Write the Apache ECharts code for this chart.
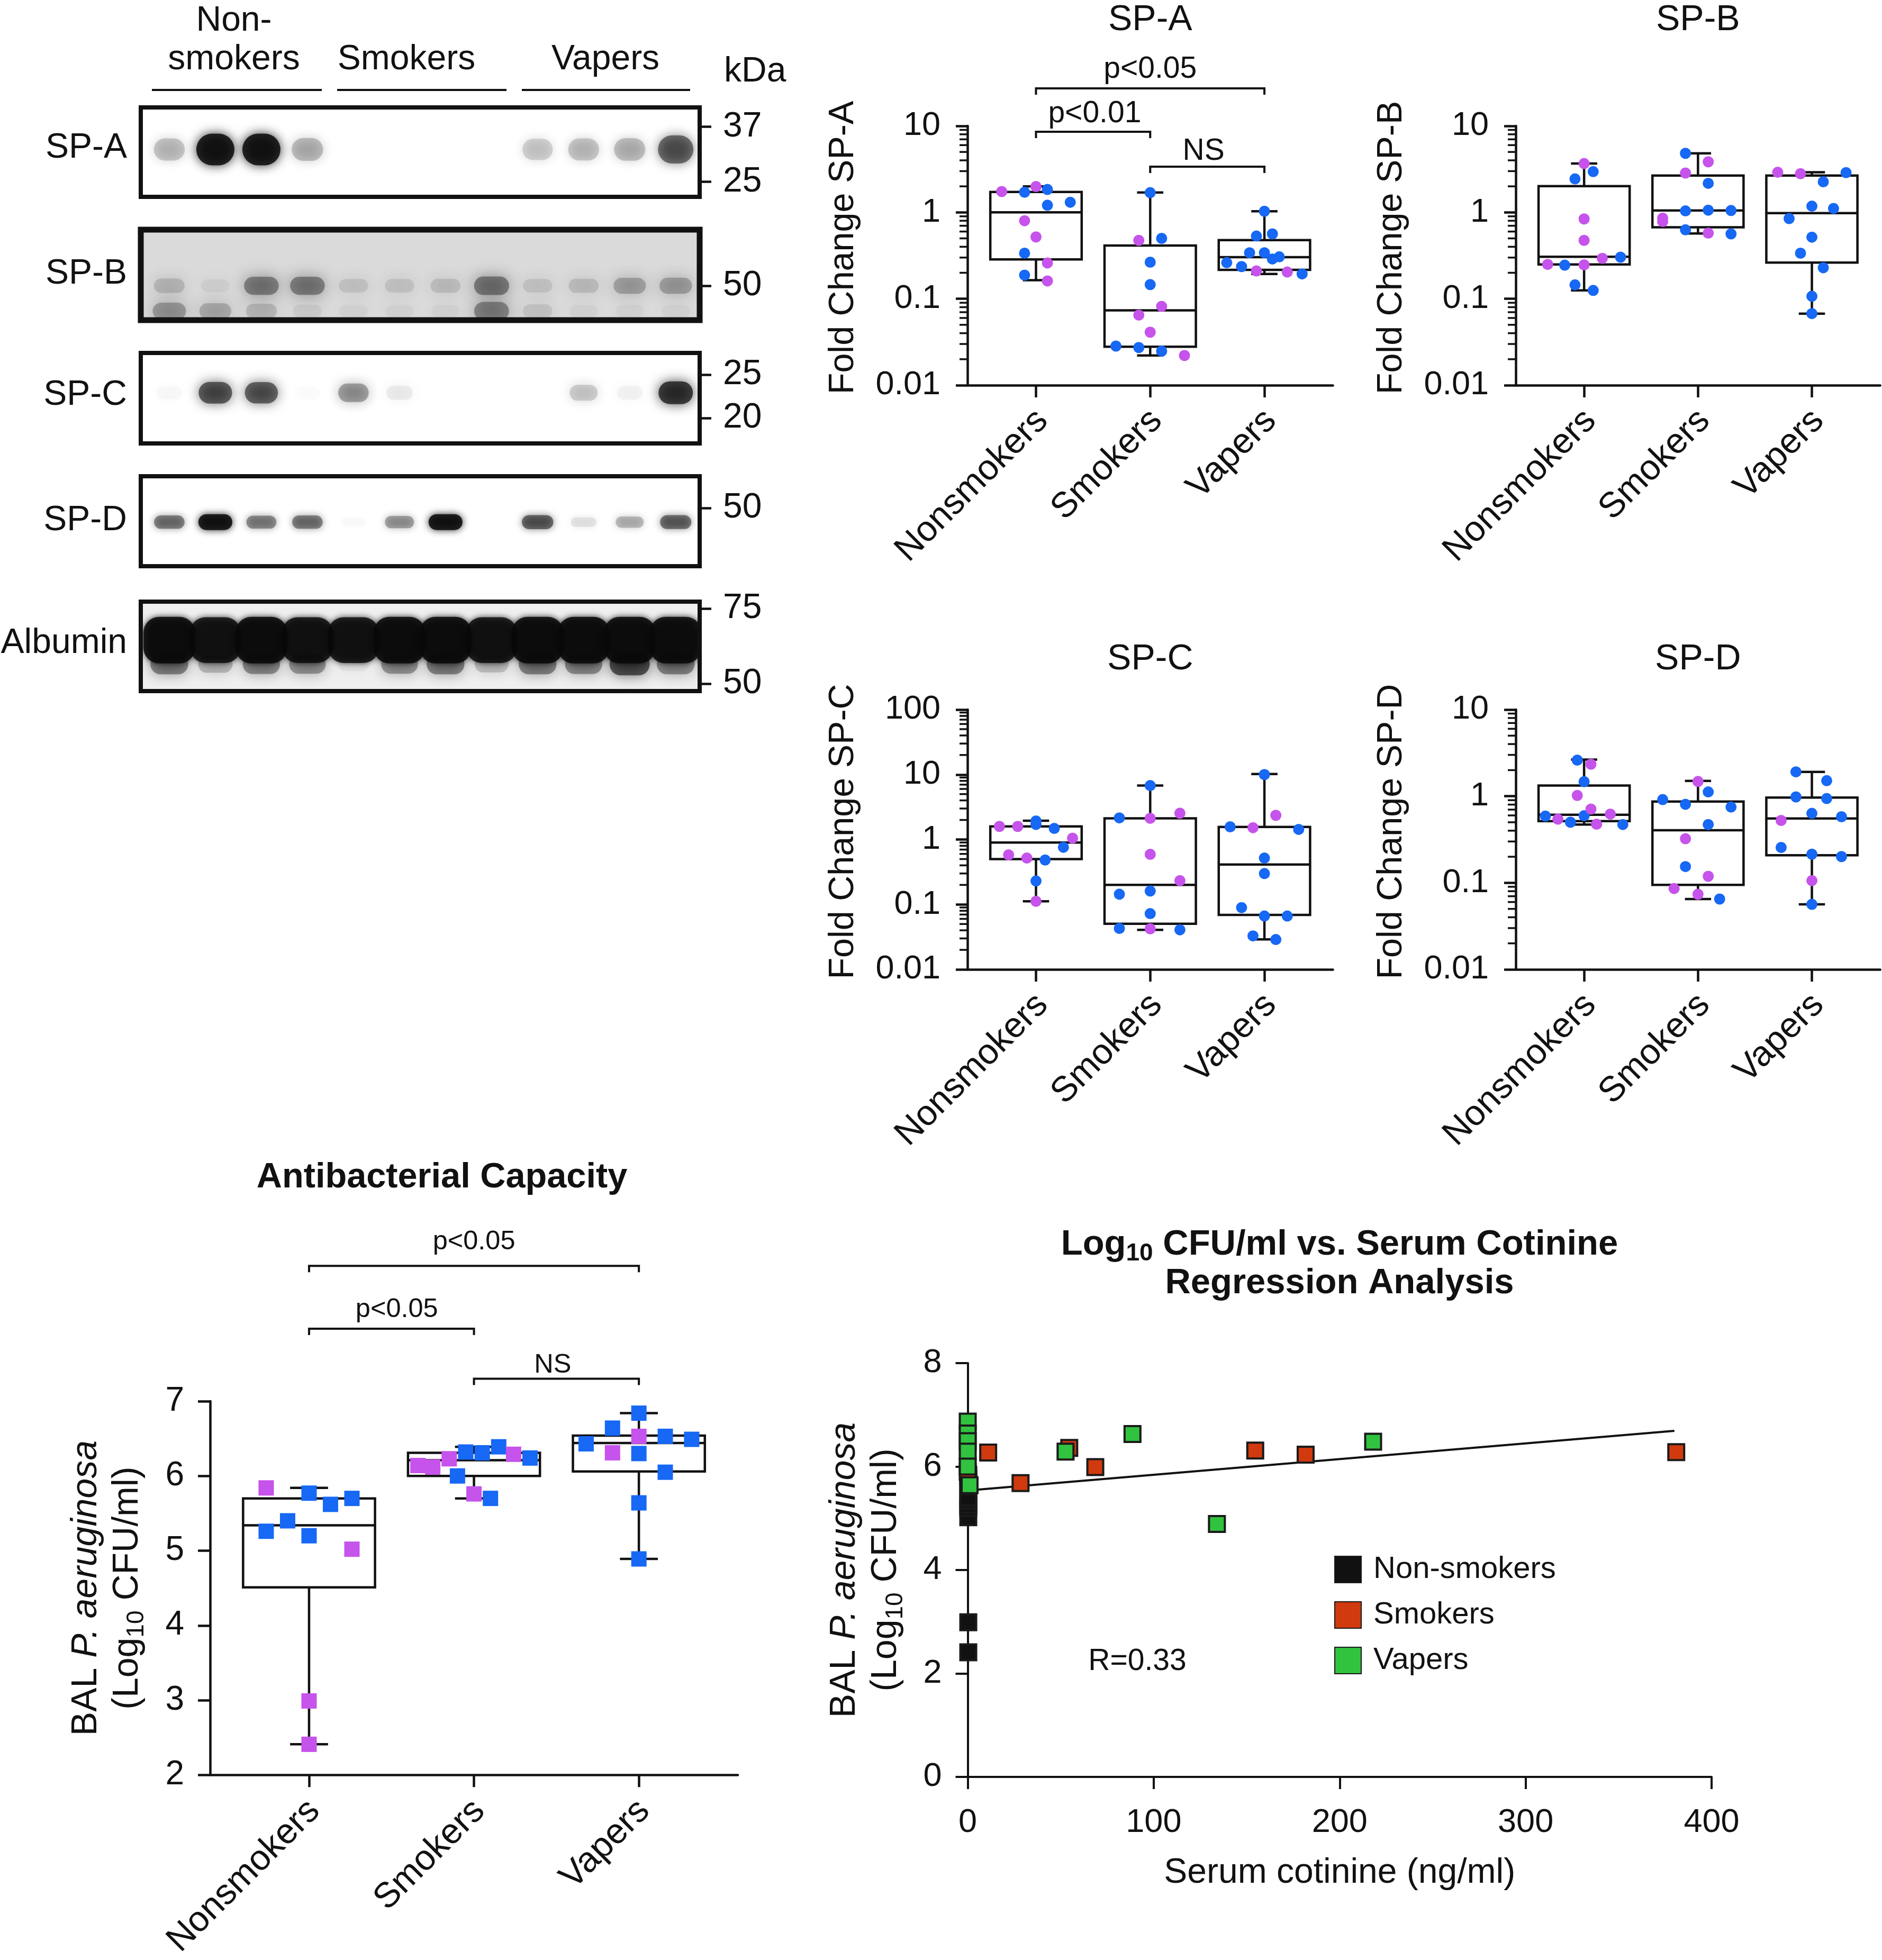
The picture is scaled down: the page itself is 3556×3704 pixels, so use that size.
<!DOCTYPE html>
<html><head><meta charset="utf-8">
<style>html,body{margin:0;padding:0;background:#fff}#c{width:3556px;height:3704px}</style>
<script src="https://cdn.jsdelivr.net/npm/echarts@6/dist/echarts.min.js"></script>
</head><body><div id="c"></div>
<script>
const categories = ['Nonsmokers','Smokers','Vapers'];

// Box summaries: [group, low whisker, Q1, median, Q3, high whisker]; points: [jittered group, value]
const spA_box = [[1,.164,.286,1.0,1.72,2.0],[2,.0221,.0279,.0735,.414,1.70],[3,.194,.216,.303,.478,1.03]];
const spA_blue = [[.90,1.71],[1.10,1.84],[1.10,1.21],[1.30,1.31],[.90,.337],[.90,.188],
  [2,1.69],[2.10,.50],[2,.265],[2,.146],[1.70,.0284],[1.90,.0273],[2.10,.0248],
  [3,1.03],[2.93,.532],[3.07,.564],[2.87,.341],[3,.341],[3.07,.289],[3.13,.306],[2.67,.262],[2.80,.236],[3.33,.194]];
const spA_purple = [[.70,1.74],[1,1.99],[.90,.80],[1,.52],[1.10,.26],[1.10,.161],
  [1.90,.474],[2.10,.0818],[1.90,.0648],[2,.0411],[2.30,.0221],
  [2.93,.21],[3.20,.204]];

const spB_box = [[1,.125,.25,.306,2.01,3.67],[2,.57,.672,1.05,2.67,4.82],[3,.0674,.262,.98,2.67,2.91]];
const spB_blue = [[1.08,2.96],[.92,2.44],[1.32,.303],[.83,.245],[.92,.145],[1.08,.125],
  [1.89,4.82],[2.09,2.17],[1.89,1.04],[2.09,1.06],[2.29,1.05],[1.89,.628],[2.29,.564],
  [3.30,2.88],[3.10,2.26],[3,1.18],[3.19,1.11],[2.80,.848],[3,.517],[2.90,.337],[3.10,.229],[3,.107],[3,.0674]];
const spB_purple = [[1,3.67],[1,.84],[1,.474],[1.16,.294],[.68,.25],[1,.247],
  [2.09,3.85],[1.89,2.85],[1.69,.857],[1.69,.785],[2.09,.575],
  [2.70,2.91],[2.90,2.80]];

const spC_box = [[1,.112,.5,.898,1.59,1.95],[2,.0407,.0505,.2,2.12,6.76],[3,.029,.0689,.413,1.56,10.2]];
const spC_blue = [[1,1.93],[1,1.71],[1.16,1.48],[1.24,.76],[1.08,.483],[1,.23],
  [2,6.76],[1.73,2.15],[2,.161],[1.73,.144],[2,.0722],[1.73,.0427],[2.26,.0407],
  [3,10.0],[2.70,1.57],[3.30,1.43],[3,.518],[3,.299],[2.80,.0895],[3,.0664],[3.20,.0664],[2.90,.0328],[3.10,.0288]];
const spC_purple = [[.68,1.59],[.84,1.59],[1.32,1.05],[.76,.58],[.92,.518],[1,.112],
  [2,2.12],[2.26,2.54],[2,.591],[2.26,.233],[2,.0422],
  [3.10,2.36],[2.90,1.52]];

const spD_box = [[1,.47,.515,.611,1.33,2.65],[2,.065,.0948,.405,.867,1.5],[3,.0564,.208,.553,.965,1.91]];
const spD_blue = [[.94,2.61],[1,1.47],[.66,.589],[1,.595],[.88,.501],[1.34,.471],
  [2.09,1.12],[1.69,.914],[1.89,.807],[2.29,.75],[2.09,.471],[1.89,.154],[2.19,.065],
  [2.86,1.91],[3.13,1.51],[2.86,.982],[3.13,.94],[3,.634],[3.26,.579],[2.73,.256],[3,.214],[3.26,.201],[3,.0564]];
const spD_purple = [[1.06,2.34],[.94,1.02],[1.06,.711],[1.23,.622],[.77,.543],[1.11,.475],
  [2,1.48],[1.89,.323],[2.09,.119],[1.79,.0859],[2,.0737],
  [2.73,.525],[3,.106]];

const abc_box = [[1,2.41,4.51,5.34,5.70,5.84],[2,5.70,6.0,6.21,6.31,6.39],[3,4.89,6.06,6.44,6.54,6.84]];
const abc_blue = [[1,5.77],[1.13,5.62],[1.26,5.70],[.87,5.40],[.74,5.26],[1,5.20],
  [1.95,6.32],[2.05,6.31],[2.15,6.39],[2.34,6.24],[1.90,6.0],[2.10,5.70],
  [3,6.84],[2.84,6.64],[3.16,6.53],[3.32,6.49],[2.68,6.43],[3,6.30],[3.16,6.05],[3,5.64],[3,4.89]];
const abc_purple = [[.74,5.84],[1.26,5.02],[1,2.99],[1,2.41],
  [1.66,6.14],[1.75,6.12],[1.85,6.23],[2.24,6.29],[2,5.76],
  [3,6.53],[2.84,6.31]];

// Regression: [serum cotinine, log10 CFU/ml]
const reg_nonsmokers = [[.3,2.41],[.3,2.99],[.3,5.02],[.3,5.2],[.3,5.26],[.3,5.34],[.3,5.4],[.3,5.62],[.3,5.7],[.3,5.77],[.3,5.84]];
const reg_smokers = [[0,5.9],[11,6.27],[28.4,5.68],[54.6,6.36],[68.6,5.99],[154.6,6.31],[181.7,6.23],[381,6.28]];
const reg_vapers = [[0,6.87],[0,6.64],[0,6.49],[0,6.29],[0,6.0],[1,5.64],[52.6,6.29],[88.6,6.63],[134,4.89],[218,6.48]];
const reg_line = [[.65,5.54],[380,6.69]];

// Blot band intensity per lane (0-1), 12 lanes
const blotA = [.33,1,1,.38,0,0,0,0,.27,.32,.36,.75];
const blotB = [.3,.1,.68,.68,.2,.2,.24,.72,.2,.25,.46,.48];
const blotB_low = [.55,.42,.32,.14,.08,.08,.08,.7,.2,.08,.08,.08];
const blotC = [.05,.85,.82,.02,.55,.12,0,0,0,.3,.08,.95];
const blotD = [.65,1,.6,.65,.03,.5,1,0,.75,.15,.38,.72];
const blotAlb = [1,.96,1,.96,.96,1,1,.96,1,1,1,1];
const blotAlb_low = [.7,.4,.65,.6,.1,.6,.7,.35,.7,.65,.9,.7];
const blotNames = ['SP-A','SP-B','SP-C','SP-D','Albumin'];
const kda = [['37','25'],['50'],['25','20'],['50'],['75','50']];

const FONT = 'Liberation Sans', INK = '#111', BLUE = '#1668f5', PURPLE = '#c653eb';
const RED = '#d03a0e', GREEN = '#31c23f';
const opt = {animation:false, backgroundColor:'#fff', textStyle:{fontFamily:FONT,color:INK},
  title:[], grid:[], xAxis:[], yAxis:[], series:[], graphic:[]};

const titleAt = (text,x,y,size,bold,rich) => opt.title.push({text,left:x,top:y,padding:0,textAlign:'center',textVerticalAlign:'middle',
  textStyle:{fontFamily:FONT,fontSize:size,fontWeight:bold?'bold':'normal',color:INK,rich}});
const gText = (text,x,y,size,align) => opt.graphic.push({type:'text',x,y,silent:true,
  style:{text,fontFamily:FONT,fontSize:size,fill:INK,align:align||'center',verticalAlign:'middle'}});
const gLine = (x1,x2,y) => opt.graphic.push({type:'line',silent:true,shape:{x1,y1:y,x2,y2:y},style:{stroke:INK,lineWidth:4}});

// ---------- Blots ----------
const blotBoxes = [[203,372],[434,605],[667,838],[900,1070],[1137,1306]];
const blotTicks = [[.215,.832],[.62],[.24,.72],[.353],[.077,.917]];
const blotLabelY = [280,518,747,984,1216];
function bandSeries(g, values, yf, w, h, blur, gray, rad){
  return {type:'custom',xAxisIndex:g,yAxisIndex:g,silent:true,clip:true,z:2,data:values.map((v,i)=>[i,v]),
    renderItem(p,api){
      const v=api.value(1); if(v<=0) return null;
      const c=api.coord([api.value(0),yf]), ww=w*(.72+.28*v), hh=h*(.55+.45*v);
      const a=1-Math.sqrt(1-Math.min(.98,v));
      return {type:'rect',shape:{x:c[0]-ww/2,y:c[1]-hh/2,width:ww,height:hh,r:rad==null?hh/2:rad},
        style:{fill:`rgba(${gray},${gray},${gray},${a})`,shadowColor:`rgb(${gray},${gray},${gray})`,shadowBlur:blur}};
    }};
}
function bgSeries(g, fill){
  return {type:'custom',xAxisIndex:g,yAxisIndex:g,silent:true,z:1,data:[[0,0]],
    renderItem(p,api){
      const a=api.coord([-.62,0]), b=api.coord([11.52,1]);
      return {type:'rect',shape:{x:a[0],y:a[1],width:b[0]-a[0],height:b[1]-a[1]},style:{fill}};
    }};
}
blotBoxes.forEach((b,i)=>{
  const g=opt.grid.length;
  opt.grid.push({show:true,left:266,top:b[0],width:1056,height:b[1]-b[0],borderColor:INK,borderWidth:i===1?11:8,backgroundColor:'transparent',z:10});
  opt.xAxis.push({gridIndex:g,type:'value',min:-.62,max:11.52,show:false});
  opt.yAxis.push({gridIndex:g,type:'value',min:0,max:1,inverse:true,position:'right',splitLine:{show:false},axisLine:{show:false,onZero:false},
    axisTick:{show:true,customValues:blotTicks[i],length:22,lineStyle:{color:INK,width:4.5}},
    axisLabel:{show:true,customValues:blotTicks[i],margin:44,fontSize:66,fontFamily:FONT,color:INK,padding:[11,0,0,0],
      formatter:v=>kda[i][blotTicks[i].indexOf(v)]}});
  gText(blotNames[i],240,blotLabelY[i],66,'right');
});
opt.series.push(bandSeries(0,blotA,.47,72,60,20,12));
opt.series.push(bgSeries(1,'#dadada'));
opt.series.push(bandSeries(1,blotB_low,.9,72,40,30,50));
opt.series.push(bandSeries(1,blotB,.62,72,40,28,40));
opt.series.push(bandSeries(2,blotC,.44,66,44,22,25));
opt.series.push(bandSeries(3,blotD,.51,64,30,14,10));
opt.series.push(bgSeries(4,'#efefef'));
opt.series.push(bandSeries(4,blotAlb_low,.7,78,44,24,30));
opt.series.push(bandSeries(4,blotAlb,.43,98,88,12,8,30));
gText('Non-',442,40,66); gText('smokers',442,113,66); gText('Smokers',768,113,66); gText('Vapers',1144,113,66);
gText('kDa',1368,136,66,'left');
gLine(287,608,170); gLine(637,957,170); gLine(986,1304,170);

// ---------- Group panels ----------
const boxSeries = (g,box) => ({type:'custom',xAxisIndex:g,yAxisIndex:g,silent:true,z:2,data:box,
  renderItem(p,api){
    const x=api.value(0), P=(dx,v)=>api.coord([x+dx,v]);
    const lo=api.value(1),q1=api.value(2),med=api.value(3),q3=api.value(4),hi=api.value(5);
    const ln={stroke:INK,lineWidth:4.5,fill:null};
    const a=P(-.4,q3), b=P(.4,q1);
    const seg=(p1,p2)=>({type:'line',shape:{x1:p1[0],y1:p1[1],x2:p2[0],y2:p2[1]},style:ln});
    return {type:'group',children:[
      {type:'rect',shape:{x:a[0],y:a[1],width:b[0]-a[0],height:b[1]-a[1]},style:ln},
      seg(P(-.4,med),P(.4,med)),
      seg(P(0,q3),P(0,hi)), seg(P(-.115,hi),P(.115,hi)),
      seg(P(0,q1),P(0,lo)), seg(P(-.115,lo),P(.115,lo))]};
  }});
const dotSeries = (g,data,color,symbol,size) => ({type:'scatter',xAxisIndex:g,yAxisIndex:g,clip:false,silent:true,z:3,data,symbol,symbolSize:size,itemStyle:{color,opacity:1}});
const bracketSeries = (g,list,fs) => ({type:'custom',xAxisIndex:g,yAxisIndex:g,silent:true,z:2,data:list.map(b=>[b.from,b.to,b.level]),
  renderItem(p,api){
    const A=api.coord([api.value(0),api.value(2)]), B=api.coord([api.value(1),api.value(2)]), br=list[p.dataIndex];
    return {type:'group',children:[
      {type:'polyline',shape:{points:[[A[0],A[1]+12],A,[B[0],B[1]],[B[0],B[1]+12]]},style:{stroke:INK,lineWidth:4,fill:null}},
      {type:'text',x:(A[0]+B[0])/2+(br.dx||0),y:A[1]-br.dy,style:{text:br.text,fontFamily:FONT,fontSize:fs,fill:INK,align:'center',verticalAlign:'middle'}}]};
  }});
const MINOR=[2,3,4,5,6,7,8,9];
function minorSeries(g,decades,xMin){
  const vals=[]; decades.forEach(d=>MINOR.forEach(m=>vals.push([xMin,m*d])));
  return {type:'custom',xAxisIndex:g,yAxisIndex:g,silent:true,z:1,data:vals,
    renderItem(p,api){const c=api.coord([api.value(0),api.value(1)]);
      return {type:'line',shape:{x1:c[0]-15,y1:c[1],x2:c[0],y2:c[1]},style:{stroke:INK,lineWidth:3.5}};}};
}
// The slanted labels sit a little to the right of their tick: labelShift is in group units
const xAx = (g,fs,mar,labelShift) => ({gridIndex:g,type:'value',min:.4,max:3.6,splitLine:{show:false},
  axisLine:{onZero:false,lineStyle:{color:INK,width:4.5}},
  axisTick:{customValues:[1,2,3],length:23,lineStyle:{color:INK,width:4.5}},
  axisLabel:{customValues:[1,2,3].map(v=>v+labelShift),rotate:45,margin:mar,padding:[17,0,0,0],fontSize:fs,fontFamily:FONT,color:INK,formatter:v=>categories[Math.round(v)-1]}});
function logPanel(name,left,spacing,top,height,minVal,maxVal,box,blue,purple,decades,brackets){
  const g=opt.grid.length;
  opt.grid.push({left,top,width:3.2*spacing,height});
  opt.xAxis.push(xAx(g,67,57,.056));
  opt.yAxis.push({gridIndex:g,type:'log',logBase:10,min:minVal,max:maxVal,splitLine:{show:false},
    axisLine:{onZero:false,lineStyle:{color:INK,width:4.5}},axisTick:{length:22,lineStyle:{color:INK,width:4.5}},
    axisLabel:{margin:51,fontSize:63,padding:[11,0,0,0],fontFamily:FONT,color:INK,formatter:v=>String(+(+v).toPrecision(2))},
    name:'Fold Change '+name,nameLocation:'middle',nameRotate:90,nameGap:201,
    nameTextStyle:{fontFamily:FONT,fontSize:66.5,color:INK,padding:[0,0,0,30]}});
  opt.series.push(minorSeries(g,decades,.4));
  opt.series.push(boxSeries(g,box));
  opt.series.push(dotSeries(g,blue,BLUE,'circle',21));
  opt.series.push(dotSeries(g,purple,PURPLE,'circle',21));
  if(brackets) opt.series.push(bracketSeries(g,brackets,57));
  titleAt(name,left+.6*spacing+spacing,top<1000?38:1246,68);
}
logPanel('SP-A',1828,215.8,238,490,.01,10,spA_box,spA_blue,spA_purple,[.01,.1,1],[
  {from:1,to:3,level:27.2,text:'p<0.05',dy:36},{from:1,to:2,level:8.57,text:'p<0.01',dy:34,dx:3},{from:2,to:3,level:3.38,text:'NS',dy:29,dx:-7}]);
logPanel('SP-B',2864,215.2,238,490,.01,10,spB_box,spB_blue,spB_purple,[.01,.1,1]);
logPanel('SP-C',1828,215.8,1341,491,.01,100,spC_box,spC_blue,spC_purple,[.01,.1,1,10]);
logPanel('SP-D',2864,215.2,1341,491,.01,10,spD_box,spD_blue,spD_purple,[.01,.1,1]);

// Name rich styles with italic and subscript
const nameRich = {
  t:{fontFamily:FONT,fontSize:68,color:INK,lineHeight:78,verticalAlign:'middle'},
  i:{fontFamily:FONT,fontSize:68,fontStyle:'italic',color:INK,lineHeight:78,verticalAlign:'middle'},
  s:{fontFamily:FONT,fontSize:46,color:INK,lineHeight:65,padding:[35,0,0,0],verticalAlign:'middle'}};
const baseName = '{t|BAL }{i|P. aeruginosa}\n{t|(Log}{s|10}{t| CFU/ml)}';

// Antibacterial capacity
{
  const g=opt.grid.length, sp=311.6;
  opt.grid.push({left:397,top:2648,width:3.2*sp,height:709});
  opt.xAxis.push(xAx(g,67,58,.032));
  opt.yAxis.push({gridIndex:g,type:'value',min:2,max:7,interval:1,splitLine:{show:false},
    axisLine:{onZero:false,lineStyle:{color:INK,width:4.5}},axisTick:{length:23,lineStyle:{color:INK,width:4.5}},
    axisLabel:{margin:49,fontSize:64,padding:[10,0,0,0],fontFamily:FONT,color:INK},
    name:baseName,nameLocation:'middle',nameRotate:90,nameGap:117,nameTextStyle:{rich:nameRich}});
  opt.series.push(boxSeries(g,abc_box));
  opt.series.push(dotSeries(g,abc_blue,BLUE,'rect',29));
  opt.series.push(dotSeries(g,abc_purple,PURPLE,'rect',29));
  opt.series.push(bracketSeries(g,[{from:1,to:3,level:8.81,text:'p<0.05',dy:45},{from:1,to:2,level:7.97,text:'p<0.05',dy:36,dx:10},{from:2,to:3,level:7.30,text:'NS',dy:26,dx:-7}],50.5));
  titleAt('Antibacterial Capacity',835,2226,66.7,true);
}

// Regression
{
  const g=opt.grid.length;
  opt.grid.push({left:1828.5,top:2576,width:1405.5,height:782});
  opt.xAxis.push({gridIndex:g,type:'value',min:0,max:400,interval:100,splitLine:{show:false},
    axisLine:{onZero:false,lineStyle:{color:INK,width:4}},axisTick:{length:23,lineStyle:{color:INK,width:4}},
    axisLabel:{margin:55,fontSize:63,fontFamily:FONT,color:INK},
    name:'Serum cotinine (ng/ml)',nameLocation:'middle',nameGap:149,nameTextStyle:{fontFamily:FONT,fontSize:66,color:INK}});
  opt.yAxis.push({gridIndex:g,type:'value',min:0,max:8,interval:2,splitLine:{show:false},
    axisLine:{onZero:false,lineStyle:{color:INK,width:4}},axisTick:{length:23,lineStyle:{color:INK,width:4}},
    axisLabel:{margin:49,fontSize:63,padding:[10,0,0,0],fontFamily:FONT,color:INK},
    name:baseName,nameLocation:'middle',nameRotate:90,nameGap:115,nameTextStyle:{rich:nameRich}});
  const sq=(name,data,color)=>({name,type:'scatter',xAxisIndex:g,yAxisIndex:g,clip:false,silent:true,z:3,data,symbol:'rect',symbolSize:30,
    itemStyle:{color,borderColor:'#1a1a1a',borderWidth:4,opacity:1}});
  opt.series.push({type:'line',xAxisIndex:g,yAxisIndex:g,data:reg_line,showSymbol:false,silent:true,z:2,lineStyle:{color:INK,width:4}});
  opt.series.push(sq('Non-smokers',reg_nonsmokers,'#111'));
  opt.series.push(sq('Smokers',reg_smokers,RED));
  opt.series.push(sq('Vapers',reg_vapers,GREEN));
  opt.legend={orient:'vertical',left:2516,top:2932,itemWidth:50,itemHeight:50,itemGap:28,icon:'rect',selectedMode:false,
    data:['Non-smokers','Smokers','Vapers'],textStyle:{fontFamily:FONT,fontSize:58,color:INK,padding:[0,0,0,18]}};
  const tr={b:{fontFamily:FONT,fontSize:67,fontWeight:'bold',color:INK,lineHeight:72,verticalAlign:'middle'},s:{fontFamily:FONT,fontSize:46,fontWeight:'bold',color:INK,lineHeight:60,padding:[32,0,0,0],verticalAlign:'middle'}};
  titleAt('{b|Log}{s|10}{b| CFU/ml vs. Serum Cotinine}',2531,2353,67,true,tr);
  titleAt('Regression Analysis',2531,2426,67,true);
  gText('R=0.33',2149,3140,57);
}
const chart=echarts.init(document.getElementById('c'),null,{renderer:'canvas',width:3556,height:3704});
chart.setOption(opt);
</script></body></html>
